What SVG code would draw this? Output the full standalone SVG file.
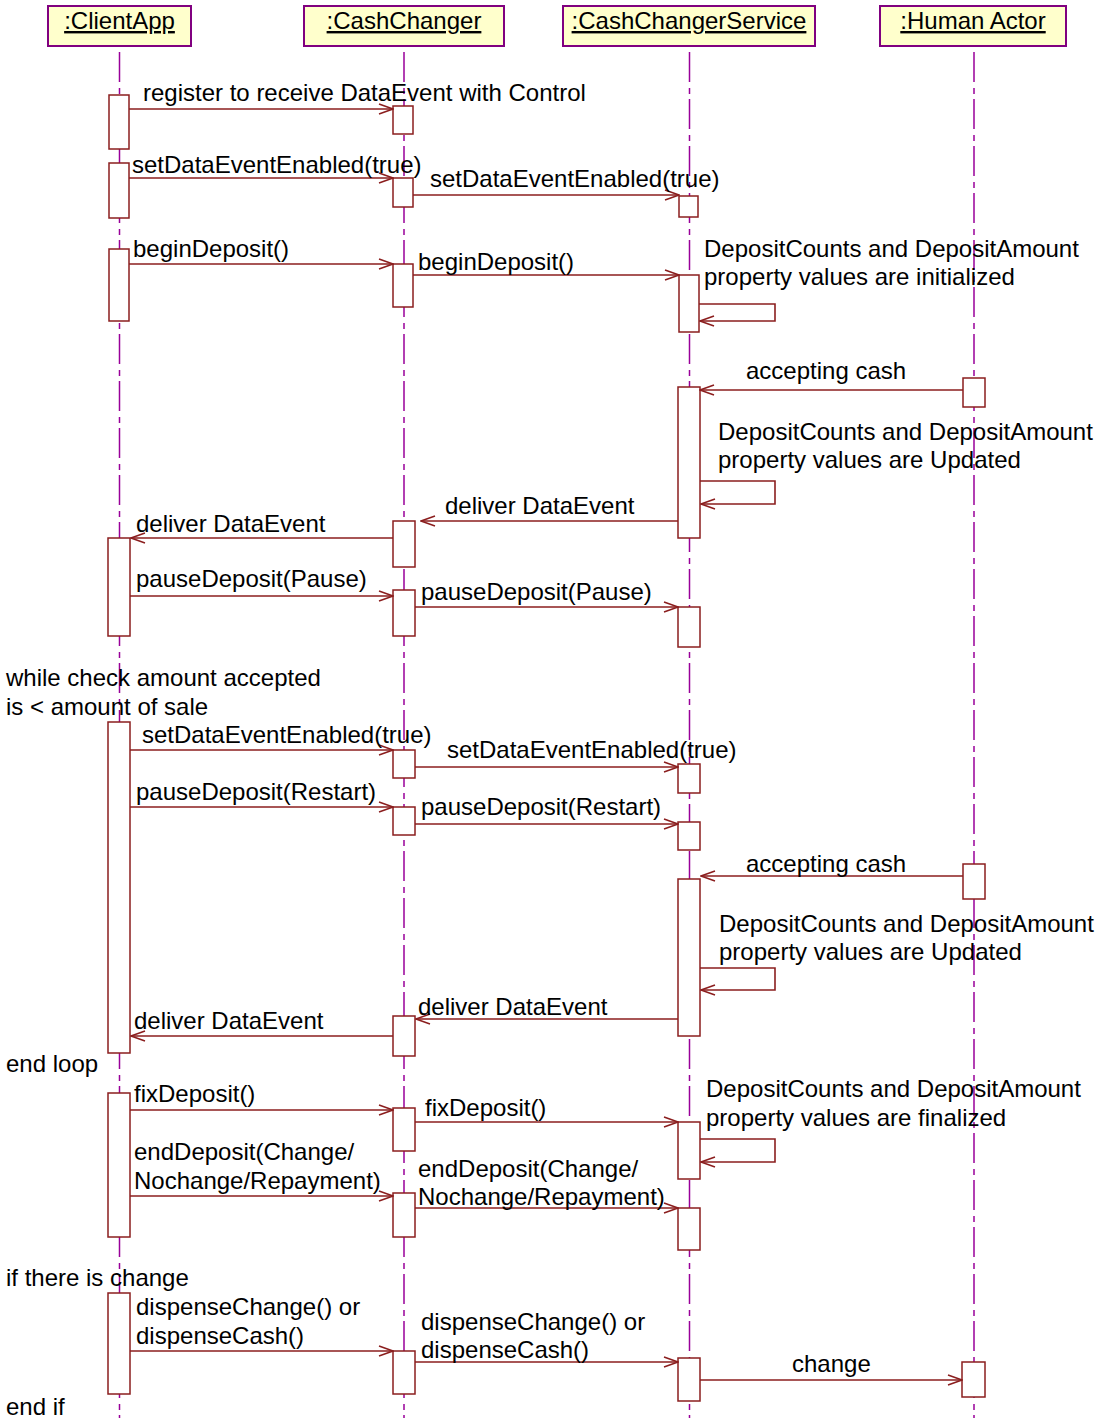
<svg xmlns="http://www.w3.org/2000/svg" width="1101" height="1418" viewBox="0 0 1101 1418">
<style>
text{font-family:"Liberation Sans",Arial,sans-serif;font-size:24px;fill:#000}
.hd{fill:#ffffcc;stroke:#800080;stroke-width:2}
.ht{text-anchor:middle;text-decoration:underline}
.ll{stroke:#990099;stroke-width:1.5;stroke-dasharray:30 6 6 5;fill:none}
.act{fill:#fff;stroke:#8b1e1e;stroke-width:1.5}
.msg{fill:none;stroke:#8b1e1e;stroke-width:1.6;marker-end:url(#ah)}
</style>
<defs>
<marker id="ah" markerWidth="16" markerHeight="12" viewBox="-15 -6 16 12" refX="0" refY="0" orient="auto" markerUnits="userSpaceOnUse">
<path d="M-14,-5 L0,0 L-14,5" fill="none" stroke="#8b1e1e" stroke-width="1.5"/>
</marker>
</defs>
<rect width="1101" height="1418" fill="#fff"/>
<g id="lifelines">
<line class="ll" x1="119.5" y1="52" x2="119.5" y2="1418"/>
<line class="ll" x1="404" y1="52" x2="404" y2="1418"/>
<line class="ll" x1="689.5" y1="52" x2="689.5" y2="1418"/>
<line class="ll" x1="974" y1="52" x2="974" y2="1418"/>
</g>
<g id="node-clientapp">
<rect class="hd" x="48" y="6" width="143" height="40"/>
<text class="ht" x="119.5" y="29">:ClientApp</text>
<rect class="act" x="109" y="95" width="20" height="54"/>
<rect class="act" x="109" y="163" width="20" height="55"/>
<rect class="act" x="109" y="249" width="20" height="72"/>
<rect class="act" x="108" y="538" width="22" height="98"/>
<rect class="act" x="108" y="722" width="22" height="331"/>
<rect class="act" x="108" y="1093" width="22" height="144"/>
<rect class="act" x="108" y="1293" width="22" height="101"/>
</g>
<g id="node-cashchanger">
<rect class="hd" x="304" y="6" width="200" height="40"/>
<text class="ht" x="404" y="29">:CashChanger</text>
<rect class="act" x="393" y="106" width="20" height="28"/>
<rect class="act" x="393" y="178" width="20" height="29"/>
<rect class="act" x="393" y="264" width="20" height="43"/>
<rect class="act" x="393" y="521" width="22" height="46"/>
<rect class="act" x="393" y="590" width="22" height="46"/>
<rect class="act" x="393" y="750" width="22" height="28"/>
<rect class="act" x="393" y="807" width="22" height="28"/>
<rect class="act" x="393" y="1016" width="22" height="40"/>
<rect class="act" x="393" y="1108" width="22" height="43"/>
<rect class="act" x="393" y="1193" width="22" height="44"/>
<rect class="act" x="393" y="1351" width="22" height="43"/>
</g>
<g id="node-cashchangerservice">
<rect class="hd" x="563" y="6" width="252" height="40"/>
<text class="ht" x="689" y="29">:CashChangerService</text>
<rect class="act" x="679" y="196" width="19" height="21"/>
<rect class="act" x="679" y="275" width="20" height="57"/>
<rect class="act" x="678" y="387" width="22" height="151"/>
<rect class="act" x="678" y="607" width="22" height="40"/>
<rect class="act" x="678" y="764" width="22" height="29"/>
<rect class="act" x="678" y="822" width="22" height="28"/>
<rect class="act" x="678" y="879" width="22" height="157"/>
<rect class="act" x="678" y="1122" width="22" height="57"/>
<rect class="act" x="678" y="1208" width="22" height="42"/>
<rect class="act" x="678" y="1358" width="22" height="43"/>
</g>
<g id="node-humanactor">
<rect class="hd" x="880" y="6" width="186" height="40"/>
<text class="ht" x="973" y="29">:Human Actor</text>
<rect class="act" x="963" y="378" width="22" height="29"/>
<rect class="act" x="963" y="864" width="22" height="35"/>
<rect class="act" x="962" y="1362" width="23" height="35"/>
</g>
<g id="connectors">
<line class="msg" x1="129" y1="109" x2="393" y2="109"/>
<line class="msg" x1="129" y1="178" x2="393" y2="178"/>
<line class="msg" x1="413" y1="195" x2="679" y2="195"/>
<line class="msg" x1="129" y1="264" x2="393" y2="264"/>
<line class="msg" x1="413" y1="275" x2="679" y2="275"/>
<polyline class="msg" points="699,304 775,304 775,321 700,321"/>
<line class="msg" x1="963" y1="390" x2="700" y2="390"/>
<polyline class="msg" points="700,481 775,481 775,504 701,504"/>
<line class="msg" x1="678" y1="521" x2="421" y2="521"/>
<line class="msg" x1="393" y1="538" x2="131" y2="538"/>
<line class="msg" x1="130" y1="596" x2="393" y2="596"/>
<line class="msg" x1="415" y1="607" x2="678" y2="607"/>
<line class="msg" x1="130" y1="750" x2="393" y2="750"/>
<line class="msg" x1="415" y1="767" x2="678" y2="767"/>
<line class="msg" x1="130" y1="807" x2="393" y2="807"/>
<line class="msg" x1="415" y1="824" x2="678" y2="824"/>
<line class="msg" x1="963" y1="876" x2="701" y2="876"/>
<polyline class="msg" points="700,968 775,968 775,990 701,990"/>
<line class="msg" x1="678" y1="1019" x2="416" y2="1019"/>
<line class="msg" x1="393" y1="1036" x2="131" y2="1036"/>
<line class="msg" x1="130" y1="1110" x2="393" y2="1110"/>
<line class="msg" x1="415" y1="1122" x2="678" y2="1122"/>
<polyline class="msg" points="700,1139 775,1139 775,1162 701,1162"/>
<line class="msg" x1="130" y1="1196" x2="393" y2="1196"/>
<line class="msg" x1="415" y1="1208" x2="678" y2="1208"/>
<line class="msg" x1="130" y1="1351" x2="393" y2="1351"/>
<line class="msg" x1="415" y1="1362" x2="678" y2="1362"/>
<line class="msg" x1="700" y1="1380" x2="962" y2="1380"/>
</g>
<g id="labels">
<text x="143" y="101">register to receive DataEvent with Control</text>
<text x="132" y="173">setDataEventEnabled(true)</text>
<text x="430" y="187">setDataEventEnabled(true)</text>
<text x="133" y="257">beginDeposit()</text>
<text x="418" y="270">beginDeposit()</text>
<text x="704" y="257">DepositCounts and DepositAmount</text>
<text x="704" y="285">property values are initialized</text>
<text x="746" y="379">accepting cash</text>
<text x="718" y="440">DepositCounts and DepositAmount</text>
<text x="718" y="468">property values are Updated</text>
<text x="445" y="514">deliver DataEvent</text>
<text x="136" y="532">deliver DataEvent</text>
<text x="136" y="587">pauseDeposit(Pause)</text>
<text x="421" y="600">pauseDeposit(Pause)</text>
<text x="6" y="686">while check amount accepted</text>
<text x="6" y="715">is &lt; amount of sale</text>
<text x="142" y="743">setDataEventEnabled(true)</text>
<text x="447" y="758">setDataEventEnabled(true)</text>
<text x="136" y="800">pauseDeposit(Restart)</text>
<text x="421" y="815">pauseDeposit(Restart)</text>
<text x="746" y="872">accepting cash</text>
<text x="719" y="932">DepositCounts and DepositAmount</text>
<text x="719" y="960">property values are Updated</text>
<text x="418" y="1015">deliver DataEvent</text>
<text x="134" y="1029">deliver DataEvent</text>
<text x="6" y="1072">end loop</text>
<text x="706" y="1097">DepositCounts and DepositAmount</text>
<text x="706" y="1126">property values are finalized</text>
<text x="134" y="1102">fixDeposit()</text>
<text x="425" y="1116">fixDeposit()</text>
<text x="134" y="1160">endDeposit(Change/</text>
<text x="134" y="1189">Nochange/Repayment)</text>
<text x="418" y="1177">endDeposit(Change/</text>
<text x="418" y="1205">Nochange/Repayment)</text>
<text x="6" y="1286">if there is change</text>
<text x="136" y="1315">dispenseChange() or</text>
<text x="136" y="1344">dispenseCash()</text>
<text x="421" y="1330">dispenseChange() or</text>
<text x="421" y="1358">dispenseCash()</text>
<text x="792" y="1372">change</text>
<text x="6" y="1415">end if</text>
</g>
</svg>
